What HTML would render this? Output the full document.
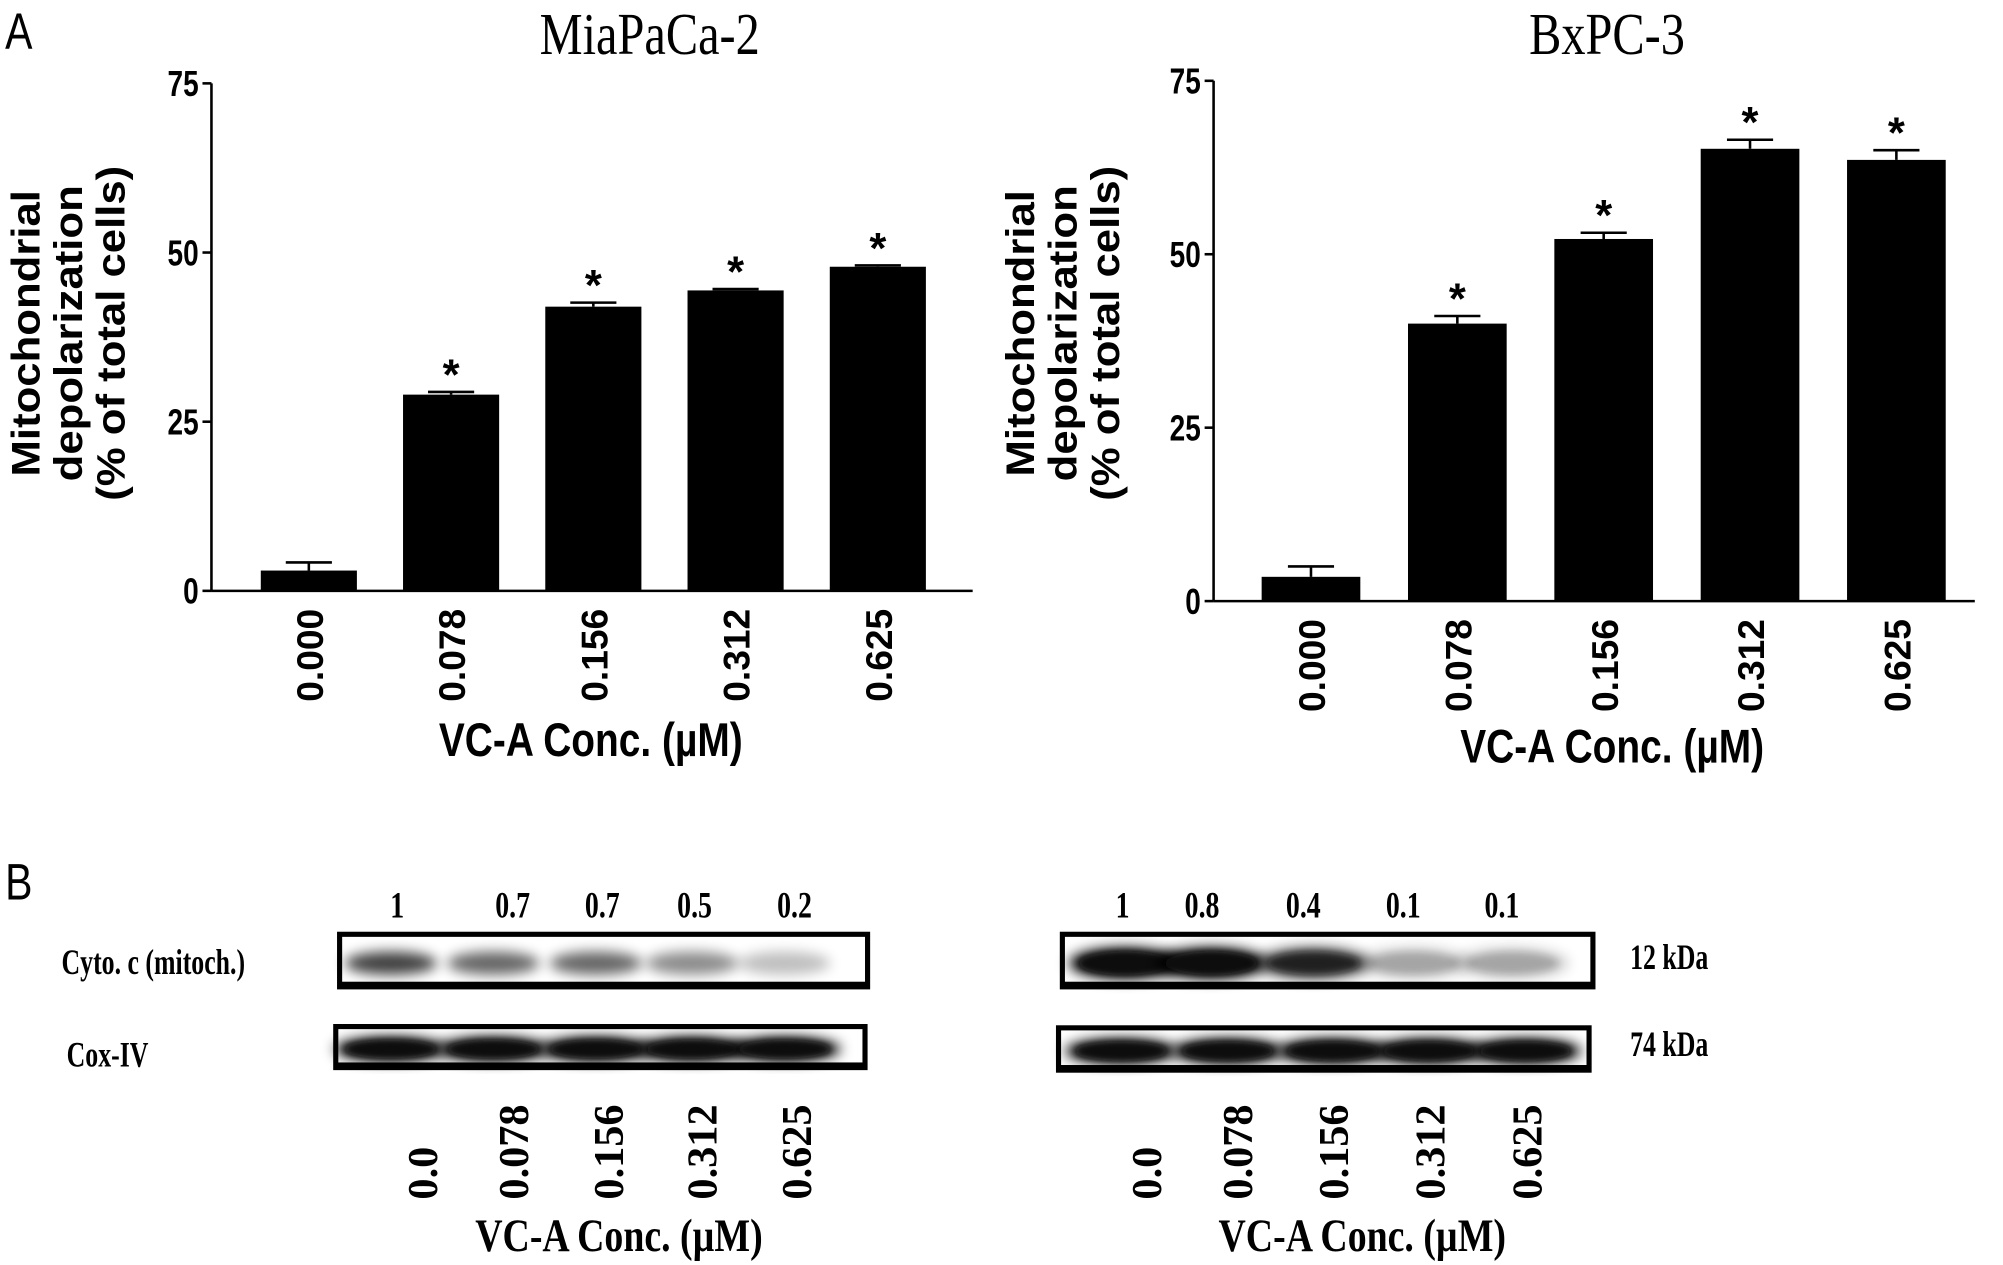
<!DOCTYPE html>
<html><head><meta charset="utf-8"><style>
html,body{margin:0;padding:0;background:#fff;}
svg{display:block;}
.ax{font-family:"Liberation Sans",sans-serif;font-weight:bold;}
.sr{font-family:"Liberation Serif",serif;}
</style></head><body>
<svg id="fig" width="2003" height="1265" viewBox="0 0 1563 987" xmlns="http://www.w3.org/2000/svg">
<defs>
<filter id="blur" x="-20%" y="-50%" width="140%" height="200%"><feGaussianBlur stdDeviation="5"/></filter>
<filter id="blur2" x="-20%" y="-50%" width="140%" height="200%"><feGaussianBlur stdDeviation="3"/></filter>
</defs>
<text transform="translate(4,38) scale(0.8,1)" font-family="Liberation Sans, sans-serif" font-size="40">A</text>
<text transform="translate(4,702) scale(0.8,1)" font-family="Liberation Sans, sans-serif" font-size="40">B</text>
<g id="chartL"></g>
<g id="chartR"></g>
<g id="blots"></g>
</svg>
<script>
const categories = ["0.000","0.078","0.156","0.312","0.625"];
const yTicks = [0,25,50,75];
const miaValues = [3.0,29.0,42.0,44.4,47.9];
const miaErrors = [1.2,0.4,0.6,0.2,0.2];
const bxValues = [3.5,40.0,52.2,65.2,63.6];
const bxErrors = [1.5,1.1,0.9,1.3,1.4];
const cytoRatiosL = ["1","0.7","0.7","0.5","0.2"];
const cytoRatiosR = ["1","0.8","0.4","0.1","0.1"];
const blotConc = ["0.0","0.078","0.156","0.312","0.625"];
const cytoIntensityL = [0.75,0.6,0.6,0.45,0.25];
const cytoIntensityR = [1,1,0.7,0.2,0.2];
const coxIntensityL = [1,1,1,1,1];
const coxIntensityR = [1,1,1,1,1];

const NS="http://www.w3.org/2000/svg";
function mk(tag,attrs,parent,text){const e=document.createElementNS(NS,tag);for(const k in attrs)e.setAttribute(k,attrs[k]);if(text!==undefined)e.textContent=text;parent.appendChild(e);return e;}
function txt(parent,s,x,y,size,sx,anchor,rot,cls,extra){
  const a={x:0,y:0,'font-size':size,'text-anchor':anchor||'start',class:cls,transform:`translate(${x},${y}) rotate(${rot||0}) scale(${sx},1)`};
  if(extra) for(const k in extra) a[k]=extra[k];
  return mk('text',a,parent,s);
}

function drawChart(g, o, values, errors, title, prefix){
  const y=v=>o.y0-(v/75)*(o.y0-o.y75);
  const x=i=>o.c0+i*o.step;
  let t=txt(g,title,o.titleX,42,46,0.82,'middle',0,'sr');
  
  
  let a=mk('line',{x1:o.ax,y1:o.y75,x2:o.ax,y2:o.y0,stroke:'#000','stroke-width':2},g);
  
  
  let b=mk('line',{x1:o.ax,y1:o.y0,x2:o.axEnd,y2:o.y0,stroke:'#000','stroke-width':2},g);
  
  
  yTicks.forEach(v=>{
    mk('line',{x1:o.ax-7,y1:y(v),x2:o.ax,y2:y(v),stroke:'#000','stroke-width':2},g);
    let tl=txt(g,String(v),o.ax-10,y(v)+10,28,0.78,'end',0,'ax');
    
    
  });
  const lines=["Mitochondrial","depolarization","(% of total cells)"];
  lines.forEach((s,k)=>{
    const lx=o.ylx+k*33;
    let yt=txt(g,s,lx,o.yly,31,1.1,'middle',-90,'ax');
    
    
  });
  values.forEach((v,i)=>{
    const cx=x(i);
    let r=mk('rect',{x:cx-o.bw/2,y:y(v),width:o.bw,height:o.y0-y(v),fill:'#000'},g);
    
    
    const et=y(v+errors[i]);
    let e=mk('path',{d:`M${cx} ${y(v)} V${et} M${cx-18} ${et} H${cx+18}`,stroke:'#000','stroke-width':2,fill:'none'},g);
    
    
    if(i>0){
      let s=mk('text',{x:cx,y:et-2,'text-anchor':'middle','font-size':34,class:'ax'},g,'*');
      
      
    }
    let xl=txt(g,categories[i],cx+11,o.y0+14,29,1.0,'end',-90,'ax');
    
    
  });
  let xt=txt(g,'VC-A Conc. (\u00b5M)',o.xtx,o.xty,37,0.82,'middle',0,'ax');
  
  
}
drawChart(document.getElementById('chartL'),{ax:165,axEnd:759,y0:461,y75:65,c0:241,step:111,bw:75,titleX:507,ylx:31,yly:260,xtx:461,xty:590},miaValues,miaErrors,'MiaPaCa-2','miapaca');
drawChart(document.getElementById('chartR'),{ax:947,axEnd:1541,y0:469,y75:63,c0:1023,step:114.2,bw:77,titleX:1254,ylx:807,yly:260,xtx:1258,xty:595},bxValues,bxErrors,'BxPC-3','bxpc');

function drawBlot(g,bx,by,bw,bh,intens,prefix,lanes,dark){
  let box=mk('g',{},g);
  
  
  mk('rect',{x:bx,y:by,width:bw,height:bh,fill:'#fff'},box);
  intens.forEach((v,i)=>{
    const cx=lanes[i];
    mk('ellipse',{cx:cx,cy:by+bh*0.55,rx:dark?44:36,ry:dark?bh*0.3:bh*0.22,fill:'#000',opacity:v,filter:'url(#blur)'},box);
    if(dark) mk('ellipse',{cx:cx,cy:by+bh*0.55,rx:36,ry:bh*0.22,fill:'#111',opacity:v,filter:'url(#blur2)'},box);
  });
  mk('rect',{x:bx,y:by,width:bw,height:bh,fill:'none',stroke:'#000','stroke-width':4},box);
  mk('rect',{x:bx,y:by+bh-4,width:bw,height:5,fill:'#000'},box);
}
const bg=document.getElementById('blots');
const lanesL=[305,385,465,540,612];
const lanesR=[878,945,1025,1103,1180];
const lanesRc=[875,958,1040,1115,1190];
drawBlot(bg,265,729,412,41,cytoIntensityL,'cyto-c-miapaca',lanesL,false);
drawBlot(bg,262,801,413,32,coxIntensityL,'cox-iv-miapaca',lanesL,true);
drawBlot(bg,829,729,414,41,cytoIntensityR,'cyto-c-bxpc',lanesR,true);
drawBlot(bg,826,802,414,33,coxIntensityR,'cox-iv-bxpc',lanesRc,true);

const ratioXL=[310,400,470,542,620], ratioXR=[876,938,1017,1095,1172];
cytoRatiosL.forEach((s,i)=>{let t=txt(bg,s,ratioXL[i],716,29,0.75,'middle',0,'sr',{'font-weight':'bold'});});
cytoRatiosR.forEach((s,i)=>{let t=txt(bg,s,ratioXR[i],716,29,0.75,'middle',0,'sr',{'font-weight':'bold'});});
const concXL=[330,401,475,548,622], concXR=[895,966,1041,1116,1192];
blotConc.forEach((s,i)=>{
  [[concXL,'miapaca'],[concXR,'bxpc']].forEach(([arr,p])=>{
    let t=txt(bg,s,arr[i]+11,936,33,1.0,'start',-90,'sr',{'font-weight':'bold'});
    
    
  });
});
[['Cyto. c (mitoch.)',48,760,'cyto-c-label'],['Cox-IV',52,832,'cox-iv-label'],['12 kDa',1272,756,'kda-12-label'],['74 kDa',1272,824,'kda-74-label']].forEach(([s,x,y,n])=>{
  let t=txt(bg,s,x,y,28,0.72,'start',0,'sr',{'font-weight':'bold'});
  
  
});
[[483,'blot-x-title-miapaca'],[1063,'blot-x-title-bxpc']].forEach(([x,n])=>{
  let t=txt(bg,'VC-A Conc. (\u00b5M)',x,976,36,0.82,'middle',0,'sr',{'font-weight':'bold'});
  
  
});
</script>
</body></html>
